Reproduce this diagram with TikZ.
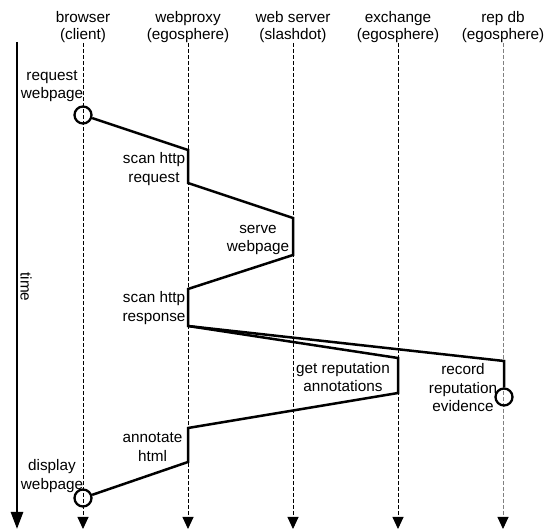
\documentclass[tikz,border=0pt]{standalone}
\usepackage{fontspec}
\setmainfont{Liberation Sans}
\usetikzlibrary{arrows.meta}
\begin{document}
\begin{tikzpicture}[x=1pt,y=-1pt,
  every node/.style={font=\fontsize{15.3}{18.5}\selectfont},
  lbl/.style={align=center, inner sep=0pt},
  hdr/.style={align=center, inner sep=0pt, font=\fontsize{15.3}{17}\selectfont},
  lifeline/.style={dash pattern=on 4pt off 2pt, line width=0.9pt,
    -{Triangle[width=11pt,length=12pt,color=black]}},
  msg/.style={line width=2.5pt, line join=miter},
  endpt/.style={circle, draw, line width=2.3pt, minimum size=17pt, inner sep=0pt},
]
\useasboundingbox (0,0) rectangle (547,529);

% participants
\node[hdr] (h1) at (83,27)  {browser\\(client)};
\node[hdr] (h2) at (188,27) {webproxy\\(egosphere)};
\node[hdr] (h3) at (293,27) {web server\\(slashdot)};
\node[hdr] (h4) at (398,27) {exchange\\(egosphere)};
\node[hdr] (h5) at (503,27) {rep db\\(egosphere)};

% lifelines
\coordinate (bottom) at (0,529);
\draw[lifeline] (h1.south) -- (h1.south |- bottom);
\draw[lifeline] (h2.south) -- (h2.south |- bottom);
\draw[lifeline] (h3.south) -- (h3.south |- bottom);
\draw[lifeline] (h4.south) -- (h4.south |- bottom);
\draw[lifeline, draw=gray] (h5.south) -- (h5.south |- bottom);

% time axis
\coordinate (t0) at (17,42);
\coordinate (t1) at (17,529);
\draw[line width=2.6pt, -{Triangle[width=12pt,length=17pt]}] (t0) -- (t1);
\node[rotate=-90] (time) at (26,287) {time};

% activity points
\node[endpt] (c1) at (83,115) {};
\node[endpt] (c2) at (83,498) {};
\node[endpt] (c3) at (504,397) {};
\coordinate (a1) at (188,150);
\coordinate (a2) at (188,183);
\coordinate (b1) at (293,218);
\coordinate (b2) at (293,255);
\coordinate (d1) at (188,289);
\coordinate (d2) at (188,326);
\coordinate (e1) at (398,358);
\coordinate (e2) at (398,393);
\coordinate (f1) at (188,428);
\coordinate (f2) at (188,462);
\coordinate (g1) at (504,361);

% request / response flow
\draw[msg] (c1) -- (a1) -- (a2) -- (b1) -- (b2) -- (d1) -- (d2)
  -- (e1) -- (e2) -- (f1) -- (f2) -- (c2);
\draw[msg] (d2) -- (g1) -- (c3);

% step labels
\node[lbl] (l1) at (52,86)    {request\\webpage};
\node[lbl] (l2) at (154,169)  {scan http\\request};
\node[lbl] (l3) at (258,240)  {serve\\webpage};
\node[lbl] (l4) at (154,308)  {scan http\\response};
\node[lbl] (l5) at (343,377)  {get reputation\\annotations};
\node[lbl] (l6) at (463,388)  {record\\reputation\\evidence};
\node[lbl] (l7) at (152.5,447) {annotate\\html};
\node[lbl] (l8) at (52,476)   {display\\webpage};
\end{tikzpicture}
\end{document}
